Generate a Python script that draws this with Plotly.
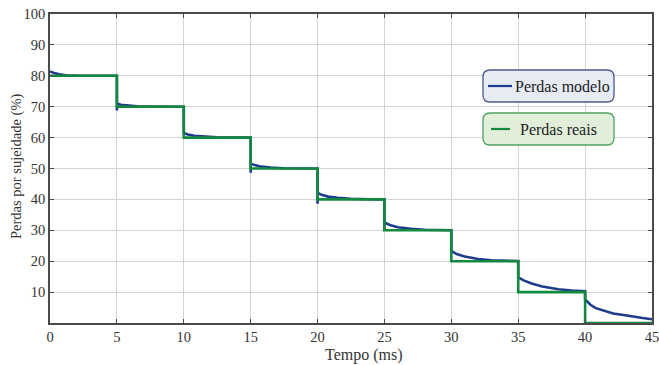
import plotly.graph_objects as go

# Data
real_t = [0, 5, 10, 15, 20, 25, 30, 35, 40, 45]
real_perdas = [80, 70, 60, 50, 40, 30, 20, 10, 0, 0]

model_t = [0, 0.3, 0.7, 1.2, 2, 3, 5,
           5, 5, 5.3, 5.8, 6.5, 7.5, 10,
           10, 10.3, 10.8, 11.5, 12.5, 15,
           15, 15, 15.3, 15.8, 16.5, 17.5, 20,
           20, 20, 20.3, 20.8, 21.5, 22.5, 24, 25,
           25, 25, 25.4, 26, 27, 28, 30,
           30, 30.4, 31, 32, 33, 35,
           35, 35.4, 36, 36.8, 38, 39, 40,
           40, 40.4, 40.8, 41.5, 42.1, 43, 43.6, 44.3, 45]
model_perdas = [81.4, 80.9, 80.5, 80.2, 80.05, 80, 80,
                68.8, 71, 70.6, 70.3, 70.1, 70.02, 70,
                61.5, 61.0, 60.6, 60.3, 60.1, 60,
                48.6, 51.6, 51.1, 50.6, 50.3, 50.1, 50,
                38.6, 42.2, 41.5, 40.9, 40.5, 40.2, 40.05, 40,
                29.8, 32.5, 31.7, 31.0, 30.5, 30.2, 30,
                23.3, 22.3, 21.5, 20.7, 20.3, 20.05,
                14.8, 13.8, 12.8, 11.8, 10.9, 10.5, 10.3,
                7.6, 5.9, 4.8, 3.8, 3.1, 2.5, 2.0, 1.6, 1.2]

x_ticks = [0, 5, 10, 15, 20, 25, 30, 35, 40, 45]
y_ticks = [10, 20, 30, 40, 50, 60, 70, 80, 90, 100]

series_names = ["Perdas modelo", "Perdas reais"]
x_title = "Tempo (ms)"
y_title = "Perdas por sujeidade (%)"
blue = "#1f3b8c"
green = "#12893d"
font_family = "'Liberation Serif', 'Times New Roman', serif"

fig = go.Figure()
fig.add_trace(go.Scatter(x=model_t, y=model_perdas, mode="lines", name=series_names[0],
                         line=dict(color=blue, width=2.6), showlegend=False))
fig.add_trace(go.Scatter(x=real_t, y=real_perdas, mode="lines", name=series_names[1],
                         line=dict(color=green, width=2.6, shape="hv"), showlegend=False))

W, H = 659, 365
ml, mr, mt, mb = 50, 7, 14, 42
pw, ph = W - ml - mr, H - mt - mb

def px_to_paper(x, y):
    return (x - ml) / pw, 1 - (y - mt) / ph

def rounded_rect(x0, y0, x1, y1, r):
    def P(x, y):
        a, b = px_to_paper(x, y)
        return f"{a:.5f},{b:.5f}"
    return (f"M {P(x0 + r, y0)} L {P(x1 - r, y0)} Q {P(x1, y0)} {P(x1, y0 + r)} "
            f"L {P(x1, y1 - r)} Q {P(x1, y1)} {P(x1 - r, y1)} "
            f"L {P(x0 + r, y1)} Q {P(x0, y1)} {P(x0, y1 - r)} "
            f"L {P(x0, y0 + r)} Q {P(x0, y0)} {P(x0 + r, y0)} Z")

shapes = []
annotations = []
legend_boxes = [
    (483, 70, 614, 102, "#e6ebf4", "#4d5b8c", blue, 488, 512, 513),
    (483, 113, 614, 145, "#e1eed9", "#4ea262", green, 491, 510, 518),
]
for name, (x0, y0, x1, y1, fill, border, lc, lx0, lx1, tx) in zip(series_names, legend_boxes):
    shapes.append(dict(type="path", xref="paper", yref="paper", path=rounded_rect(x0, y0, x1, y1, 7),
                       fillcolor=fill, line=dict(color=border, width=1.3), layer="above"))
    yc = (y0 + y1) / 2
    a0, b = px_to_paper(lx0, yc)
    a1, _ = px_to_paper(lx1, yc)
    shapes.append(dict(type="line", xref="paper", yref="paper", x0=a0, x1=a1, y0=b, y1=b,
                       line=dict(color=lc, width=2.2), layer="above"))
    ta, tb = px_to_paper(tx, yc)
    annotations.append(dict(xref="paper", yref="paper", x=ta, y=tb, xanchor="left", yanchor="middle",
                            text=name, showarrow=False,
                            font=dict(family=font_family, size=16, color="#222222")))

# axis titles
xa, xb = px_to_paper(364, 355)
annotations.append(dict(xref="paper", yref="paper", x=xa, y=xb, xanchor="center", yanchor="middle",
                        text=x_title, showarrow=False,
                        font=dict(family=font_family, size=16, color="#333333")))
ya, yb = px_to_paper(17, 166)
annotations.append(dict(xref="paper", yref="paper", x=ya, y=yb, xanchor="center", yanchor="middle",
                        text=y_title, showarrow=False, textangle=-90,
                        font=dict(family=font_family, size=14.5, color="#333333")))

axis_common = dict(showline=True, linecolor="#4a4a4a", linewidth=1.5, mirror="ticks",
                   ticks="inside", ticklen=4, tickcolor="#4a4a4a", tickwidth=1,
                   showgrid=True, gridcolor="#d4d4d4", gridwidth=1, zeroline=False,
                   automargin=False, ticklabeloverflow="allow",
                   tickfont=dict(family=font_family, size=14.5, color="#333333"))

fig.update_layout(
    width=W, height=H,
    margin=dict(l=ml, r=mr, t=mt, b=mb, autoexpand=False),
    paper_bgcolor="white", plot_bgcolor="white",
    shapes=shapes, annotations=annotations,
    xaxis=dict(range=[0, 45], tickvals=x_ticks, **axis_common),
    yaxis=dict(range=[0, 100], tickvals=y_ticks, **axis_common),
)

fig.write_html("out.html", config={"displayModeBar": False},
               post_script="document.body.style.margin='0';")
